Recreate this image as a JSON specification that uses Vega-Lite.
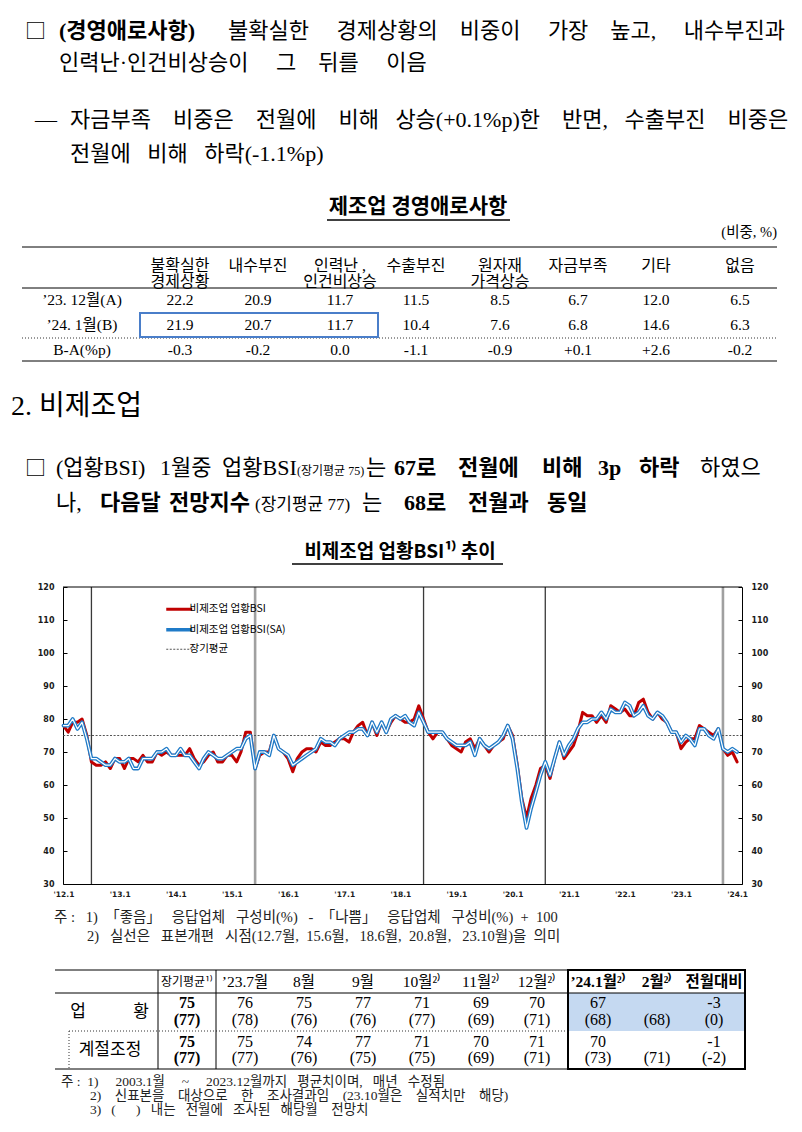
{
"$schema": "https://vega.github.io/schema/vega-lite/v6.json",
"padding": 0,
"autosize": {"type": "pad"},
"background": "#ffffff",
"spacing": 0,
"config": {"view": {"stroke": null}},
"resolve": {"scale": {"color": "independent"}, "legend": {"color": "independent"}},
"vconcat": [
{
 "width": 739, "height": 190,
 "encoding": {
  "x": {"field": "c", "type": "quantitative", "axis": null, "scale": {"domain": [0,1,2,3,4], "range": [-38,-4,165,-28,7], "zero": false, "nice": false}},
  "y": {"field": "r", "type": "quantitative", "axis": null, "scale": {"domain": [0,1,2,3], "range": [38,70,127,161], "zero": false, "nice": false}},
  "text": {"field": "t"}
 },
 "layer": [
  {"data": {"values": [{"r":0,"c":0,"t":"□"}]},
   "mark": {"type": "text", "align": "left", "baseline": "alphabetic", "font": "Noto Sans CJK KR", "fontSize": 21, "color": "#000"}},
  {"data": {"values": [
    {"r":0,"c":2,"t":"불확실한\u00a0\u00a0\u00a0\u00a0\u00a0경제상황의\u00a0\u00a0\u00a0\u00a0비중이\u00a0\u00a0\u00a0\u00a0\u00a0가장\u00a0\u00a0\u00a0\u00a0높고,\u00a0\u00a0\u00a0\u00a0\u00a0내수부진과"},
    {"r":1,"c":1,"t":"인력난·인건비상승이\u00a0\u00a0\u00a0\u00a0\u00a0그\u00a0\u00a0\u00a0\u00a0뒤를\u00a0\u00a0\u00a0\u00a0\u00a0이음"},
    {"r":2,"c":3,"t":"—"},
    {"r":2,"c":4,"t":"자금부족\u00a0\u00a0\u00a0\u00a0비중은\u00a0\u00a0\u00a0\u00a0전월에\u00a0\u00a0\u00a0\u00a0비해\u00a0\u00a0\u00a0상승(+0.1%p)한\u00a0\u00a0\u00a0\u00a0반면,\u00a0\u00a0\u00a0수출부진\u00a0\u00a0\u00a0\u00a0비중은"},
    {"r":3,"c":4,"t":"전월에\u00a0\u00a0\u00a0비해\u00a0\u00a0\u00a0하락(-1.1%p)"}
   ]},
   "mark": {"type": "text", "align": "left", "baseline": "alphabetic", "font": "'Liberation Serif','Noto Sans CJK KR'", "fontSize": 22, "color": "#000"}},
  {"data": {"values": [{"r":0,"c":1,"t":"(경영애로사항)"}]},
   "mark": {"type": "text", "align": "left", "baseline": "alphabetic", "font": "'Liberation Serif','Noto Sans CJK KR'", "fontSize": 22, "fontWeight": "bold", "color": "#000"}}
 ]
},
{
 "width": 739, "height": 190,
 "encoding": {
  "x": {"field": "c", "type": "quantitative", "axis": null, "scale": {"domain": [0,1,2,3,4,5,6,7,8,9,10,11,12,13,14,15], "range": [-41,19,117,195,277,353,437,515,593,677,714,355,264,447,77,315], "zero": false, "nice": false}},
  "y": {"field": "r", "type": "quantitative", "axis": null, "scale": {"domain": [0,1,2,3,4,5,6,7,8,9,10,11,12], "range": [17,30,43,57,76,98,110,135,148,160,171,123,147], "zero": false, "nice": false}}
 },
 "layer": [
  {"data": {"values": [{"r":3,"c":0},{"r":5,"c":0},{"r":10,"c":0}]},
   "mark": {"type": "rule", "color": "#000", "strokeWidth": 1},
   "encoding": {"x2": {"datum": 10}}},
  {"data": {"values": [{"r":8,"c":0}]},
   "mark": {"type": "rule", "color": "#333", "strokeWidth": 1, "strokeDash": [1,2]},
   "encoding": {"x2": {"datum": 10}}},
  {"data": {"values": [{"r":1,"c":12}]},
   "mark": {"type": "rule", "color": "#000", "strokeWidth": 1.3},
   "encoding": {"x2": {"datum": 13}}},
  {"data": {"values": [{"r":11,"c":14}]},
   "mark": {"type": "rect", "fillOpacity": 0, "stroke": "#4a7ec9", "strokeWidth": 2},
   "encoding": {"x2": {"datum": 15}, "y2": {"datum": 12}}},
  {"data": {"values": [{"r":0,"c":11,"t":"제조업 경영애로사항"}]},
   "mark": {"type": "text", "align": "center", "baseline": "middle", "font": "Noto Sans CJK KR", "fontSize": 21, "fontWeight": "bold", "color": "#000"},
   "encoding": {"text": {"field": "t"}}},
  {"data": {"values": [{"r":2,"c":10,"t":"(비중, %)"}]},
   "mark": {"type": "text", "align": "right", "baseline": "middle", "font": "'Liberation Serif','Noto Sans CJK KR'", "fontSize": 14.5, "color": "#000"},
   "encoding": {"text": {"field": "t"}}},
  {"data": {"values": [
    {"r":4,"c":2,"t":"불확실한\n경제상황"},{"r":4,"c":3,"t":"내수부진"},{"r":4,"c":4,"t":"인력난 ,\n인건비상승"},{"r":4,"c":5,"t":"수출부진"},
    {"r":4,"c":6,"t":"원자재\n가격상승"},{"r":4,"c":7,"t":"자금부족"},{"r":4,"c":8,"t":"기타"},{"r":4,"c":9,"t":"없음"}
   ]},
   "mark": {"type": "text", "align": "center", "baseline": "middle", "lineBreak": "\n", "lineHeight": 16, "font": "'Liberation Serif','Noto Sans CJK KR'", "fontSize": 16, "color": "#000"},
   "encoding": {"text": {"field": "t"}}},
  {"data": {"values": [
    {"r":6,"c":1,"t":"’23. 12월(A)"},{"r":6,"c":2,"t":"22.2"},{"r":6,"c":3,"t":"20.9"},{"r":6,"c":4,"t":"11.7"},{"r":6,"c":5,"t":"11.5"},{"r":6,"c":6,"t":"8.5"},{"r":6,"c":7,"t":"6.7"},{"r":6,"c":8,"t":"12.0"},{"r":6,"c":9,"t":"6.5"},
    {"r":7,"c":1,"t":"’24. 1월(B)"},{"r":7,"c":2,"t":"21.9"},{"r":7,"c":3,"t":"20.7"},{"r":7,"c":4,"t":"11.7"},{"r":7,"c":5,"t":"10.4"},{"r":7,"c":6,"t":"7.6"},{"r":7,"c":7,"t":"6.8"},{"r":7,"c":8,"t":"14.6"},{"r":7,"c":9,"t":"6.3"},
    {"r":9,"c":1,"t":"B-A(%p)"},{"r":9,"c":2,"t":"-0.3"},{"r":9,"c":3,"t":"-0.2"},{"r":9,"c":4,"t":"0.0"},{"r":9,"c":5,"t":"-1.1"},{"r":9,"c":6,"t":"-0.9"},{"r":9,"c":7,"t":"+0.1"},{"r":9,"c":8,"t":"+2.6"},{"r":9,"c":9,"t":"-0.2"}
   ]},
   "mark": {"type": "text", "align": "center", "baseline": "middle", "font": "'Liberation Serif','Noto Sans CJK KR'", "fontSize": 15.5, "color": "#000"},
   "encoding": {"text": {"field": "t"}}}
 ]
},
{
 "width": 739, "height": 155,
 "encoding": {
  "x": {"field": "c", "type": "quantitative", "axis": null, "scale": {"domain": [0,1,2,3,4,5,6,7,8,9,10,11,12,13,14,15,16,17,18,19,20], "range": [-52,-38,-7,97,159,234,303,331,395,479,535,576,637,-7,37,106,192,299,341,405,484], "zero": false, "nice": false}},
  "y": {"field": "r", "type": "quantitative", "axis": null, "scale": {"domain": [0,1,2], "range": [35,95,130], "zero": false, "nice": false}},
  "text": {"field": "t"}
 },
 "layer": [
  {"data": {"values": [{"r":0,"c":0,"t":"2. 비제조업"}]},
   "mark": {"type": "text", "align": "left", "baseline": "alphabetic", "font": "'Liberation Serif','Noto Sans CJK KR'", "fontSize": 28, "color": "#000"}},
  {"data": {"values": [{"r":1,"c":1,"t":"□"}]},
   "mark": {"type": "text", "align": "left", "baseline": "alphabetic", "font": "Noto Sans CJK KR", "fontSize": 21, "color": "#000"}},
  {"data": {"values": [
    {"r":1,"c":2,"t":"(업황BSI)"},{"r":1,"c":3,"t":"1월중"},{"r":1,"c":4,"t":"업황BSI"},{"r":1,"c":6,"t":"는"},{"r":1,"c":12,"t":"하였으"},
    {"r":2,"c":13,"t":"나,"},{"r":2,"c":17,"t":"는"}
   ]},
   "mark": {"type": "text", "align": "left", "baseline": "alphabetic", "font": "'Liberation Serif','Noto Sans CJK KR'", "fontSize": 22, "color": "#000"}},
  {"data": {"values": [
    {"r":1,"c":7,"t":"67로"},{"r":1,"c":8,"t":"전월에"},{"r":1,"c":9,"t":"비해"},{"r":1,"c":10,"t":"3p"},{"r":1,"c":11,"t":"하락"},
    {"r":2,"c":14,"t":"다음달"},{"r":2,"c":15,"t":"전망지수"},{"r":2,"c":18,"t":"68로"},{"r":2,"c":19,"t":"전월과"},{"r":2,"c":20,"t":"동일"}
   ]},
   "mark": {"type": "text", "align": "left", "baseline": "alphabetic", "font": "'Liberation Serif','Noto Sans CJK KR'", "fontSize": 22, "fontWeight": "bold", "color": "#000"}},
  {"data": {"values": [{"r":1,"c":5,"t":"(장기평균 75)"}]},
   "mark": {"type": "text", "align": "left", "baseline": "alphabetic", "font": "'Liberation Serif','Noto Sans CJK KR'", "fontSize": 12, "color": "#000"}},
  {"data": {"values": [{"r":2,"c":16,"t":"(장기평균 77)"}]},
   "mark": {"type": "text", "align": "left", "baseline": "alphabetic", "font": "'Liberation Serif','Noto Sans CJK KR'", "fontSize": 17, "color": "#000"}}
 ]
},
{
 "width": 739, "height": 48,
 "encoding": {
  "x": {"field": "c", "type": "quantitative", "axis": null, "scale": {"domain": [0,1,2], "range": [229,337,440], "zero": false, "nice": false}},
  "y": {"field": "r", "type": "quantitative", "axis": null, "scale": {"domain": [0,1], "range": [17,29], "zero": false, "nice": false}}
 },
 "layer": [
  {"data": {"values": [{"c":1,"r":0,"t":"비제조업 업황BSI¹⁾ 추이"}]},
   "mark": {"type": "text", "align": "center", "baseline": "middle", "font": "Noto Sans CJK KR", "fontSize": 19, "fontWeight": "bold", "color": "#000"},
   "encoding": {"text": {"field": "t"}}},
  {"data": {"values": [{"r":1,"c":0}]},
   "mark": {"type": "rule", "color": "#000", "strokeWidth": 1.3},
   "encoding": {"x2": {"datum": 2}}}
 ]
},
{
 "width": 679, "height": 297,
 "data": {"values": [
  {"d":"2012-01-01","bsi":78,"sa":78},{"d":"2012-02-01","bsi":76,"sa":78},{"d":"2012-03-01","bsi":79,"sa":80},{"d":"2012-04-01","bsi":79,"sa":77},{"d":"2012-05-01","bsi":80,"sa":79},{"d":"2012-06-01","bsi":75,"sa":74},{"d":"2012-07-01","bsi":67,"sa":68},{"d":"2012-08-01","bsi":66,"sa":68},{"d":"2012-09-01","bsi":66,"sa":67},{"d":"2012-10-01","bsi":67,"sa":66},{"d":"2012-11-01","bsi":65,"sa":66},{"d":"2012-12-01","bsi":68,"sa":68},
  {"d":"2013-01-01","bsi":68,"sa":67},{"d":"2013-02-01","bsi":65,"sa":67},{"d":"2013-03-01","bsi":68,"sa":68},{"d":"2013-04-01","bsi":68,"sa":65},{"d":"2013-05-01","bsi":67,"sa":65},{"d":"2013-06-01","bsi":69,"sa":68},{"d":"2013-07-01","bsi":67,"sa":68},{"d":"2013-08-01","bsi":67,"sa":68},{"d":"2013-09-01","bsi":70,"sa":70},{"d":"2013-10-01","bsi":69,"sa":70},{"d":"2013-11-01","bsi":70,"sa":71},{"d":"2013-12-01","bsi":69,"sa":69},
  {"d":"2014-01-01","bsi":69,"sa":69},{"d":"2014-02-01","bsi":69,"sa":71},{"d":"2014-03-01","bsi":69,"sa":69},{"d":"2014-04-01","bsi":71,"sa":69},{"d":"2014-05-01","bsi":68,"sa":67},{"d":"2014-06-01","bsi":66,"sa":65},{"d":"2014-07-01","bsi":67,"sa":68},{"d":"2014-08-01","bsi":69,"sa":70},{"d":"2014-09-01","bsi":70,"sa":69},{"d":"2014-10-01","bsi":67,"sa":68},{"d":"2014-11-01","bsi":67,"sa":68},{"d":"2014-12-01","bsi":69,"sa":69},
  {"d":"2015-01-01","bsi":69,"sa":70},{"d":"2015-02-01","bsi":67,"sa":71},{"d":"2015-03-01","bsi":70,"sa":71},{"d":"2015-04-01","bsi":76,"sa":74},{"d":"2015-05-01","bsi":76,"sa":75},{"d":"2015-06-01","bsi":65,"sa":65},{"d":"2015-07-01","bsi":69,"sa":70},{"d":"2015-08-01","bsi":70,"sa":70},{"d":"2015-09-01","bsi":70,"sa":69},{"d":"2015-10-01","bsi":75,"sa":75},{"d":"2015-11-01","bsi":71,"sa":71},{"d":"2015-12-01","bsi":70,"sa":70},
  {"d":"2016-01-01","bsi":68,"sa":69},{"d":"2016-02-01","bsi":64,"sa":66},{"d":"2016-03-01","bsi":68,"sa":67},{"d":"2016-04-01","bsi":70,"sa":68},{"d":"2016-05-01","bsi":71,"sa":69},{"d":"2016-06-01","bsi":71,"sa":70},{"d":"2016-07-01","bsi":70,"sa":71},{"d":"2016-08-01","bsi":73,"sa":74},{"d":"2016-09-01","bsi":72,"sa":73},{"d":"2016-10-01","bsi":72,"sa":73},{"d":"2016-11-01","bsi":73,"sa":72},{"d":"2016-12-01","bsi":74,"sa":74},
  {"d":"2017-01-01","bsi":74,"sa":75},{"d":"2017-02-01","bsi":73,"sa":76},{"d":"2017-03-01","bsi":76,"sa":76},{"d":"2017-04-01","bsi":78,"sa":77},{"d":"2017-05-01","bsi":79,"sa":77},{"d":"2017-06-01","bsi":75,"sa":75},{"d":"2017-07-01","bsi":79,"sa":79},{"d":"2017-08-01","bsi":75,"sa":76},{"d":"2017-09-01","bsi":79,"sa":79},{"d":"2017-10-01","bsi":76,"sa":76},{"d":"2017-11-01","bsi":79,"sa":80},{"d":"2017-12-01","bsi":81,"sa":81},
  {"d":"2018-01-01","bsi":80,"sa":80},{"d":"2018-02-01","bsi":79,"sa":81},{"d":"2018-03-01","bsi":79,"sa":79},{"d":"2018-04-01","bsi":80,"sa":78},{"d":"2018-05-01","bsi":84,"sa":82},{"d":"2018-06-01","bsi":80,"sa":79},{"d":"2018-07-01","bsi":76,"sa":76},{"d":"2018-08-01","bsi":74,"sa":76},{"d":"2018-09-01","bsi":76,"sa":76},{"d":"2018-10-01","bsi":76,"sa":76},{"d":"2018-11-01","bsi":74,"sa":74},{"d":"2018-12-01","bsi":72,"sa":73},
  {"d":"2019-01-01","bsi":71,"sa":72},{"d":"2019-02-01","bsi":70,"sa":72},{"d":"2019-03-01","bsi":73,"sa":72},{"d":"2019-04-01","bsi":74,"sa":73},{"d":"2019-05-01","bsi":71,"sa":69},{"d":"2019-06-01","bsi":74,"sa":74},{"d":"2019-07-01","bsi":72,"sa":72},{"d":"2019-08-01","bsi":70,"sa":71},{"d":"2019-09-01","bsi":72,"sa":72},{"d":"2019-10-01","bsi":73,"sa":73},{"d":"2019-11-01","bsi":74,"sa":75},{"d":"2019-12-01","bsi":78,"sa":78},
  {"d":"2020-01-01","bsi":75,"sa":74},{"d":"2020-02-01","bsi":66,"sa":65},{"d":"2020-03-01","bsi":56,"sa":55},{"d":"2020-04-01","bsi":50,"sa":47},{"d":"2020-05-01","bsi":56,"sa":53},{"d":"2020-06-01","bsi":60,"sa":58},{"d":"2020-07-01","bsi":65,"sa":63},{"d":"2020-08-01","bsi":66,"sa":67},{"d":"2020-09-01","bsi":62,"sa":63},{"d":"2020-10-01","bsi":68,"sa":68},{"d":"2020-11-01","bsi":73,"sa":73},{"d":"2020-12-01","bsi":68,"sa":69},
  {"d":"2021-01-01","bsi":70,"sa":72},{"d":"2021-02-01","bsi":72,"sa":74},{"d":"2021-03-01","bsi":76,"sa":77},{"d":"2021-04-01","bsi":82,"sa":79},{"d":"2021-05-01","bsi":81,"sa":79},{"d":"2021-06-01","bsi":81,"sa":80},{"d":"2021-07-01","bsi":79,"sa":80},{"d":"2021-08-01","bsi":81,"sa":82},{"d":"2021-09-01","bsi":79,"sa":80},{"d":"2021-10-01","bsi":84,"sa":83},{"d":"2021-11-01","bsi":83,"sa":82},{"d":"2021-12-01","bsi":82,"sa":82},
  {"d":"2022-01-01","bsi":83,"sa":85},{"d":"2022-02-01","bsi":81,"sa":84},{"d":"2022-03-01","bsi":81,"sa":81},{"d":"2022-04-01","bsi":85,"sa":82},{"d":"2022-05-01","bsi":86,"sa":84},{"d":"2022-06-01","bsi":82,"sa":81},{"d":"2022-07-01","bsi":80,"sa":80},{"d":"2022-08-01","bsi":82,"sa":82},{"d":"2022-09-01","bsi":80,"sa":81},{"d":"2022-10-01","bsi":79,"sa":79},{"d":"2022-11-01","bsi":76,"sa":76},{"d":"2022-12-01","bsi":76,"sa":76},
  {"d":"2023-01-01","bsi":71,"sa":73},{"d":"2023-02-01","bsi":73,"sa":75},{"d":"2023-03-01","bsi":74,"sa":74},{"d":"2023-04-01","bsi":74,"sa":72},{"d":"2023-05-01","bsi":78,"sa":77},{"d":"2023-06-01","bsi":77,"sa":77},{"d":"2023-07-01","bsi":76,"sa":75},{"d":"2023-08-01","bsi":75,"sa":74},{"d":"2023-09-01","bsi":77,"sa":77},{"d":"2023-10-01","bsi":71,"sa":71},{"d":"2023-11-01","bsi":69,"sa":70},{"d":"2023-12-01","bsi":70,"sa":71},
  {"d":"2024-01-01","bsi":67,"sa":70}
 ]},
 "layer": [
  {"data": {"values": [{"d":"2012-07-01"},{"d":"2018-06-01"},{"d":"2020-08-01"}]},
   "mark": {"type": "rule", "color": "#3a3a3a", "strokeWidth": 1.3},
   "encoding": {"x": {"field": "d", "type": "temporal", "title": null, "scale": {"type": "utc", "domain": [{"year":2011,"month":12,"date":29,"utc":true},{"year":2024,"month":2,"date":2,"utc":true}]}}}},
  {"data": {"values": [{"d":"2015-06-01"},{"d":"2023-10-01"}]},
   "mark": {"type": "rule", "color": "#a0a0a0", "strokeWidth": 2.6},
   "encoding": {"x": {"field": "d", "type": "temporal", "title": null}}},
  {"data": {"values": [{"v":75}]},
   "mark": {"type": "rule", "strokeWidth": 1.2, "strokeDash": [2,1.6]},
   "encoding": {
     "y": {"field": "v", "type": "quantitative", "axis": null, "scale": {"domain": [30,120], "zero": false, "nice": false}},
     "color": {"datum": "장기평균", "type": "nominal", "scale": {"domain": ["비제조업 업황BSI","비제조업 업황BSI(SA)","장기평균"], "range": ["#c00000","#1f7bc8","#555555"]}}}},
  {"data": {"values": [{"v":120}]},
   "mark": {"type": "rule", "color": "#000", "strokeWidth": 1},
   "encoding": {"y": {"field": "v", "type": "quantitative", "axis": null, "scale": {"domain": [30,120], "zero": false, "nice": false}}}},
  {"mark": {"type": "line", "strokeWidth": 3, "strokeJoin": "round", "strokeCap": "round"},
   "encoding": {
     "x": {"field": "d", "type": "temporal", "title": null,
           "axis": {"values": [{"year":2012,"month":1,"date":1,"utc":true},{"year":2013,"month":1,"date":1,"utc":true},{"year":2014,"month":1,"date":1,"utc":true},{"year":2015,"month":1,"date":1,"utc":true},{"year":2016,"month":1,"date":1,"utc":true},{"year":2017,"month":1,"date":1,"utc":true},{"year":2018,"month":1,"date":1,"utc":true},{"year":2019,"month":1,"date":1,"utc":true},{"year":2020,"month":1,"date":1,"utc":true},{"year":2021,"month":1,"date":1,"utc":true},{"year":2022,"month":1,"date":1,"utc":true},{"year":2023,"month":1,"date":1,"utc":true},{"year":2024,"month":1,"date":1,"utc":true}],
                    "labelExpr": "\"'\" + utcFormat(datum.value, '%y') + '.1'",
                    "ticks": false, "labelFont": "DejaVu Sans", "labelFontSize": 7.5, "labelFontWeight": "bold", "labelColor": "#1a1a1a",
                    "labelPadding": 6, "labelFlush": false, "labelOverlap": false, "domainColor": "#000", "grid": false, "title": null, "minExtent": 18}},
     "y": {"field": "bsi", "type": "quantitative", "title": null,
           "scale": {"domain": [30,120], "zero": false, "nice": false},
           "axis": {"orient": "left", "values": [30,40,50,60,70,80,90,100,110,120], "tickSize": -4, "tickColor": "#000", "labelPadding": 13, "minExtent": 63, "labelOverlap": false,
                    "labelFont": "DejaVu Sans", "labelFontSize": 8, "labelFontWeight": "bold", "labelColor": "#1a1a1a", "domainColor": "#000", "grid": false, "title": null}},
     "color": {"datum": "비제조업 업황BSI", "type": "nominal",
           "legend": {"orient": "none", "legendX": 111, "legendY": 17, "title": null, "symbolType": "stroke", "symbolSize": 676, "symbolStrokeWidth": 3,
                      "labelFont": "Noto Sans CJK KR", "labelFontSize": 10.5, "labelColor": "#000", "labelOffset": 5, "rowPadding": 6.5, "padding": 0,
                      "encode": {"symbols": {"update": {
                         "strokeDash": {"signal": "datum.value === '장기평균' ? [2, 1.5] : [1, 0]"},
                         "strokeWidth": {"signal": "datum.value === '장기평균' ? 1.2 : (datum.value === '비제조업 업황BSI' ? 3 : 3.5)"}}}}}}}},
  {"mark": {"type": "line", "strokeWidth": 3.8, "strokeJoin": "round", "strokeCap": "round"},
   "encoding": {
     "x": {"field": "d", "type": "temporal", "title": null},
     "y": {"field": "sa", "type": "quantitative", "title": null,
           "scale": {"domain": [30,120], "zero": false, "nice": false},
           "axis": {"orient": "right", "values": [30,40,50,60,70,80,90,100,110,120], "tickSize": -4, "tickColor": "#000", "labelPadding": 13, "labelOverlap": false,
                    "labelFont": "DejaVu Sans", "labelFontSize": 8, "labelFontWeight": "bold", "labelColor": "#1a1a1a", "domainColor": "#000", "grid": false, "title": null}},
     "color": {"datum": "비제조업 업황BSI(SA)", "type": "nominal"}}},
  {"mark": {"type": "line", "color": "#ffffff", "strokeWidth": 1.2, "strokeJoin": "round", "strokeCap": "round"},
   "encoding": {
     "x": {"field": "d", "type": "temporal", "title": null},
     "y": {"field": "sa", "type": "quantitative", "title": null, "axis": null, "scale": {"domain": [30,120], "zero": false, "nice": false}}}}
 ],
 "resolve": {"scale": {"y": "independent"}}
},
{
 "width": 739, "height": 58,
 "data": {"values": [
   {"c":0,"r":0,"t":"주 :\u00a0\u00a0\u00a01)\u00a0\u00a0「좋음」\u00a0\u00a0\u00a0응답업체\u00a0\u00a0\u00a0구성비(%)\u00a0\u00a0\u00a0-\u00a0\u00a0「나쁨」\u00a0\u00a0\u00a0응답업체\u00a0\u00a0\u00a0구성비(%)\u00a0\u00a0+\u00a0\u00a0100"},
   {"c":1,"r":1,"t":"2)\u00a0\u00a0\u00a0실선은\u00a0\u00a0\u00a0표본개편\u00a0\u00a0\u00a0시점(12.7월,\u00a0\u00a015.6월,\u00a0\u00a0\u00a018.6월,\u00a0\u00a020.8월,\u00a0\u00a0\u00a023.10월)을\u00a0\u00a0의미"}
 ]},
 "mark": {"type": "text", "align": "left", "baseline": "middle", "font": "'Liberation Serif','Noto Sans CJK KR'", "fontSize": 14.5, "color": "#222"},
 "encoding": {
  "x": {"field": "c", "type": "quantitative", "axis": null, "scale": {"domain": [0,1], "range": [-9,24], "zero": false, "nice": false}},
  "y": {"field": "r", "type": "quantitative", "axis": null, "scale": {"domain": [0,1], "range": [16,35], "zero": false, "nice": false}},
  "text": {"field": "t"}
 }
},
{
 "width": 739, "height": 115,
 "encoding": {
  "x": {"field": "c", "type": "quantitative", "axis": null, "scale": {"domain": [0,1,2,3,4,5,6,7,8,9,10,11,12,13,14,15,16,17,18], "range": [-8,15,78,47,95,124,153,182,241,300,359,418,474,505,535,594,651,682,6], "zero": false, "nice": false}},
  "y": {"field": "r", "type": "quantitative", "axis": null, "scale": {"domain": [0,1,2,3,4,5,6,7,8,9,10], "range": [10,22,33,43,60,51.5,71,82,98,90,109], "zero": false, "nice": false}}
 },
 "layer": [
  {"data": {"values": [{"c":13,"r":2}]},
   "mark": {"type": "rect", "fill": "#c5d9f1"},
   "encoding": {"x2": {"datum": 17}, "y2": {"datum": 6}}},
  {"data": {"values": [{"r":0,"c":0},{"r":2,"c":0},{"r":10,"c":0}]},
   "mark": {"type": "rule", "color": "#000", "strokeWidth": 1},
   "encoding": {"x2": {"datum": 17}}},
  {"data": {"values": [{"r":6,"c":18}]},
   "mark": {"type": "rule", "color": "#333", "strokeWidth": 1, "strokeDash": [1,2]},
   "encoding": {"x2": {"datum": 13}}},
  {"data": {"values": [{"c":18,"r":6}]},
   "mark": {"type": "rule", "color": "#333", "strokeWidth": 1, "strokeDash": [1,2]},
   "encoding": {"y2": {"datum": 10}}},
  {"data": {"values": [{"c":4,"r":0},{"c":6,"r":0}]},
   "mark": {"type": "rule", "color": "#000", "strokeWidth": 1},
   "encoding": {"y2": {"datum": 10}}},
  {"data": {"values": [{"c":5,"r":1,"t":"장기평균¹⁾"}]},
   "mark": {"type": "text", "align": "center", "baseline": "middle", "font": "Noto Sans CJK KR", "fontSize": 12, "color": "#000"},
   "encoding": {"text": {"field": "t"}}},
  {"data": {"values": [
    {"c":7,"r":1,"t":"’23.7월"},{"c":8,"r":1,"t":"8월"},{"c":9,"r":1,"t":"9월"},{"c":10,"r":1,"t":"10월²⁾"},{"c":11,"r":1,"t":"11월²⁾"},{"c":12,"r":1,"t":"12월²⁾"}
   ]},
   "mark": {"type": "text", "align": "center", "baseline": "middle", "font": "'Liberation Serif','Noto Sans CJK KR'", "fontSize": 15.5, "color": "#000"},
   "encoding": {"text": {"field": "t"}}},
  {"data": {"values": [{"c":14,"r":1,"t":"’24.1월²⁾"},{"c":15,"r":1,"t":"2월²⁾"},{"c":16,"r":1,"t":"전월대비"}]},
   "mark": {"type": "text", "align": "center", "baseline": "middle", "font": "'Liberation Serif','Noto Sans CJK KR'", "fontSize": 15.5, "fontWeight": "bold", "color": "#000"},
   "encoding": {"text": {"field": "t"}}},
  {"data": {"values": [{"c":1,"r":5,"t":"업"},{"c":2,"r":5,"t":"황"},{"c":3,"r":9,"t":"계절조정"}]},
   "mark": {"type": "text", "align": "center", "baseline": "middle", "font": "'Liberation Serif','Noto Sans CJK KR'", "fontSize": 17, "color": "#000"},
   "encoding": {"text": {"field": "t"}}},
  {"data": {"values": [{"c":5,"r":3,"t":"75"},{"c":5,"r":4,"t":"(77)"},{"c":5,"r":7,"t":"75"},{"c":5,"r":8,"t":"(77)"}]},
   "mark": {"type": "text", "align": "center", "baseline": "middle", "font": "'Liberation Serif','Noto Sans CJK KR'", "fontSize": 16, "fontWeight": "bold", "color": "#000"},
   "encoding": {"text": {"field": "t"}}},
  {"data": {"values": [
    {"c":7,"r":3,"t":"76"},{"c":8,"r":3,"t":"75"},{"c":9,"r":3,"t":"77"},{"c":10,"r":3,"t":"71"},{"c":11,"r":3,"t":"69"},{"c":12,"r":3,"t":"70"},{"c":14,"r":3,"t":"67"},{"c":16,"r":3,"t":"-3"},
    {"c":7,"r":4,"t":"(78)"},{"c":8,"r":4,"t":"(76)"},{"c":9,"r":4,"t":"(76)"},{"c":10,"r":4,"t":"(77)"},{"c":11,"r":4,"t":"(69)"},{"c":12,"r":4,"t":"(71)"},{"c":14,"r":4,"t":"(68)"},{"c":15,"r":4,"t":"(68)"},{"c":16,"r":4,"t":"(0)"},
    {"c":7,"r":7,"t":"75"},{"c":8,"r":7,"t":"74"},{"c":9,"r":7,"t":"77"},{"c":10,"r":7,"t":"71"},{"c":11,"r":7,"t":"70"},{"c":12,"r":7,"t":"71"},{"c":14,"r":7,"t":"70"},{"c":16,"r":7,"t":"-1"},
    {"c":7,"r":8,"t":"(77)"},{"c":8,"r":8,"t":"(76)"},{"c":9,"r":8,"t":"(75)"},{"c":10,"r":8,"t":"(75)"},{"c":11,"r":8,"t":"(69)"},{"c":12,"r":8,"t":"(71)"},{"c":14,"r":8,"t":"(73)"},{"c":15,"r":8,"t":"(71)"},{"c":16,"r":8,"t":"(-2)"}
   ]},
   "mark": {"type": "text", "align": "center", "baseline": "middle", "font": "'Liberation Serif','Noto Sans CJK KR'", "fontSize": 16, "color": "#000"},
   "encoding": {"text": {"field": "t"}}},
  {"data": {"values": [{"c":13,"r":0}]},
   "mark": {"type": "rect", "fillOpacity": 0, "stroke": "#000", "strokeWidth": 2},
   "encoding": {"x2": {"datum": 17}, "y2": {"datum": 10}}}
 ]
},
{
 "width": 739, "height": 57,
 "data": {"values": [
   {"c":0,"r":0,"t":"주 :\u00a0\u00a01)\u00a0\u00a0\u00a0\u00a0\u00a02003.1월\u00a0\u00a0\u00a0\u00a0\u00a0~\u00a0\u00a0\u00a0\u00a0\u00a02023.12월까지\u00a0\u00a0\u00a0평균치이며,\u00a0\u00a0\u00a0매년\u00a0\u00a0\u00a0수정됨"},
   {"c":1,"r":1,"t":"2)\u00a0\u00a0\u00a0\u00a0신표본을\u00a0\u00a0\u00a0\u00a0대상으로\u00a0\u00a0\u00a0\u00a0한\u00a0\u00a0\u00a0\u00a0조사결과임\u00a0\u00a0\u00a0\u00a0(23.10월은\u00a0\u00a0\u00a0\u00a0실적치만\u00a0\u00a0\u00a0\u00a0해당)"},
   {"c":1,"r":2,"t":"3)\u00a0\u00a0\u00a0(\u00a0\u00a0\u00a0\u00a0\u00a0\u00a0)\u00a0\u00a0\u00a0내는\u00a0\u00a0\u00a0전월에\u00a0\u00a0\u00a0조사된\u00a0\u00a0\u00a0해당월\u00a0\u00a0\u00a0\u00a0전망치"}
 ]},
 "mark": {"type": "text", "align": "left", "baseline": "middle", "font": "'Liberation Serif','Noto Sans CJK KR'", "fontSize": 13.5, "color": "#222"},
 "encoding": {
  "x": {"field": "c", "type": "quantitative", "axis": null, "scale": {"domain": [0,1], "range": [-2,27], "zero": false, "nice": false}},
  "y": {"field": "r", "type": "quantitative", "axis": null, "scale": {"domain": [0,1,2], "range": [7,21,35], "zero": false, "nice": false}},
  "text": {"field": "t"}
 }
}
]
}
